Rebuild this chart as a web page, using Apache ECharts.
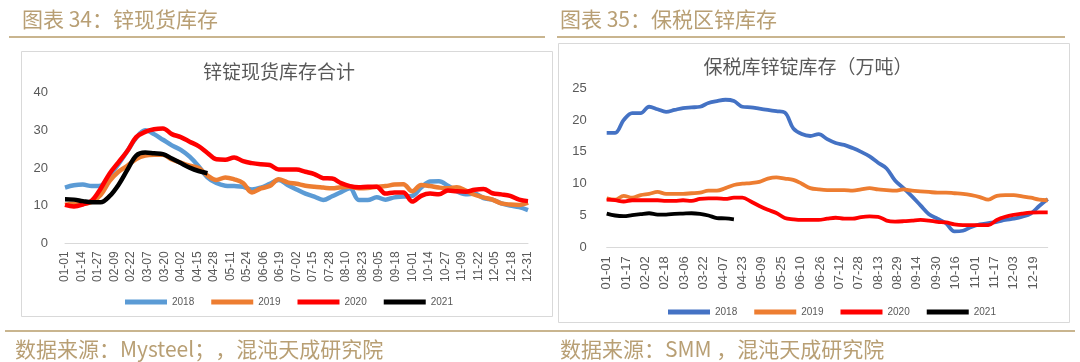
<!DOCTYPE html>
<html><head><meta charset="utf-8">
<script src="https://cdn.jsdelivr.net/npm/echarts@6/dist/echarts.min.js"></script>
<style>html,body{margin:0;padding:0;background:#fff;}#l{position:absolute;left:0;top:0;width:555px;height:362px;}#r{position:absolute;left:555px;top:0;width:525px;height:362px;}</style>
</head><body><div id="l"></div><div id="r"></div>
<script>
// x positions: day of year (01-01 = 0), sampled weekly
const weekDays = [0,7,14,21,28,35,42,49,56,63,70,77,84,91,98,105,112,119,126,133,140,147,154,161,168,175,182,189,196,203,210,217,224,231,238,245,252,259,266,273,280,287,294,301,308,315,322,329,336,343,350,357,364];
const seriesNames = ['2018','2019','2020','2021'];

// Chart 34: 锌锭现货库存合计
const spot2018 = [14.8,15.4,15.6,15.2,15.3,18.0,21.0,24.5,28.0,30.0,29.0,27.5,26.0,24.8,23.0,20.5,17.5,16.0,15.3,15.2,15.0,14.3,14.8,15.8,16.8,15.5,14.3,13.2,12.4,11.5,12.5,13.6,14.6,11.5,11.5,12.2,11.6,12.2,12.4,12.6,14.8,16.4,16.5,15.3,13.8,13.0,13.2,12.0,11.6,10.6,10.0,9.6,8.8];
const spot2019 = [10.2,10.5,10.5,11.0,12.8,16.5,19.0,20.6,22.4,23.3,23.5,23.5,22.3,21.4,20.6,20.0,18.0,16.8,17.5,17.0,16.0,13.5,14.6,15.2,17.0,16.2,15.8,15.3,15.0,14.8,14.6,14.9,15.0,14.6,14.7,15.0,15.2,15.6,15.7,13.8,15.5,15.2,14.8,14.6,14.9,14.0,12.9,12.2,11.6,10.6,10.3,10.2,10.8];
const spot2020 = [10.2,9.8,10.3,11.3,14.5,18.5,21.5,24.5,28.2,29.6,30.3,30.5,29.0,28.2,27.0,25.8,24.0,22.3,22.2,22.8,21.8,21.3,21.0,20.8,19.6,19.6,19.6,19.0,18.4,17.3,17.2,16.0,15.2,14.9,15.0,15.0,13.2,13.5,13.5,11.1,12.6,13.2,13.0,14.0,13.8,13.7,14.2,14.4,13.3,13.0,12.6,11.6,11.2];
const spot2021 = [11.7,11.6,11.2,10.9,10.9,12.5,15.5,19.5,23.3,24.1,23.9,23.7,22.5,21.3,20.1,19.2,18.6];
const spotTicks = ['01-01','01-14','01-27','02-09','02-22','03-07','03-20','04-02','04-15','04-28','05-11','05-24','06-06','06-19','07-02','07-15','07-28','08-10','08-23','09-05','09-18','10-01','10-14','10-27','11-09','11-22','12-05','12-18','12-31'];

// Chart 35: 保税库锌锭库存（万吨）
const bond2018 = [18.0,18.0,20.0,21.1,21.1,22.1,21.7,21.3,21.6,21.9,22.0,22.1,22.7,23.0,23.2,23.0,22.1,22.0,21.8,21.6,21.4,21.2,18.7,17.8,17.5,17.8,17.0,16.4,16.1,15.6,15.0,14.3,13.3,12.4,10.5,9.3,8.0,6.6,5.2,4.5,3.8,2.5,2.6,3.2,3.6,3.8,4.0,4.3,4.5,4.8,5.3,6.5,7.6];
const bond2019 = [7.7,7.5,8.1,7.8,8.2,8.4,8.7,8.4,8.4,8.4,8.5,8.6,8.9,8.9,9.3,9.8,10.0,10.1,10.3,10.8,11.0,10.8,10.6,10.0,9.3,9.1,9.0,9.0,9.0,8.9,9.1,9.3,9.1,9.0,8.9,9.1,8.9,8.8,8.7,8.6,8.6,8.5,8.4,8.2,7.9,7.5,8.1,8.2,8.2,8.0,7.8,7.5,7.4];
const bond2020 = [7.5,7.4,7.2,7.4,7.4,7.4,7.4,7.3,7.3,7.4,7.3,7.6,7.7,7.7,7.6,7.8,7.8,7.2,6.5,5.9,5.4,4.6,4.4,4.3,4.3,4.3,4.5,4.65,4.5,4.5,4.75,4.85,4.8,4.2,4.05,4.1,4.2,4.3,4.2,4.0,3.9,3.6,3.5,3.5,3.5,3.5,4.3,4.8,5.1,5.3,5.45,5.5,5.5];
const bond2021 = [5.3,5.0,4.9,5.05,5.2,5.35,5.15,5.15,5.25,5.3,5.35,5.25,5.0,4.6,4.55,4.4];
const bondTicks = ['01-01','01-17','02-02','02-18','03-06','03-22','04-07','04-23','05-09','05-25','06-10','06-26','07-12','07-28','08-13','08-29','09-14','09-30','10-16','11-01','11-17','12-03','12-19'];

const GOLD = '#b89f74', GOLDLINE = '#c9b58f', GRAY = '#595959';
const CJK = '"Noto Sans CJK SC", "Noto Sans", sans-serif';
const LAT = '"Liberation Sans", Arial, sans-serif';

function pairs(vals){ return vals.map((v,i)=>[weekDays[i], v]); }

function build(cfg){
  return {
    animation:false,
    backgroundColor:'#fff',
    textStyle:{fontFamily:LAT},
    grid:{left:cfg.gl, top:cfg.gt, width:cfg.gw, height:cfg.gh},
    legend:{left:cfg.legL, top:cfg.legT, padding:0, icon:'rect', itemWidth:42, itemHeight:5, itemGap:17,
      textStyle:{fontSize:10, color:GRAY, fontFamily:LAT}, data:seriesNames},
    xAxis:{type:'value', min:0, max:364, interval:cfg.step,
      axisLine:{show:true, lineStyle:{color:'#d9d9d9', width:1}}, axisTick:{show:false}, splitLine:{show:false},
      axisLabel:{rotate:90, margin:cfg.xm, fontSize:cfg.xfs, color:GRAY, fontFamily:LAT,
        formatter:v=> (v % cfg.step === 0 ? (cfg.ticks[v/cfg.step]||'') : '')}},
    yAxis:{type:'value', min:0, max:cfg.ymax, interval:cfg.yint,
      axisLine:{show:false}, axisTick:{show:false}, splitLine:{show:false},
      axisLabel:{margin:cfg.ym, fontSize:13, color:GRAY, fontFamily:LAT}},
    series:cfg.data.map((d,i)=>({name:seriesNames[i], type:'line', data:pairs(d), symbol:'none', smooth:0.35,
      lineStyle:{width:cfg.lw, color:cfg.colors[i]}, itemStyle:{color:cfg.colors[i]}, z:2+i})),
    graphic:cfg.graphic
  };
}

const left = echarts.init(document.getElementById('l'));
left.setOption(build({
  gl:65, gt:92.7, gw:463, gh:150.6, step:13, ticks:spotTicks, xm:8, xfs:12, ymax:40, yint:10, ym:17, lw:4.5,
  legL:125, legT:297,
  colors:['#5b9bd5','#ed7d31','#ff0000','#000000'],
  data:[spot2018, spot2019, spot2020, spot2021],
  graphic:[
    {type:'rect', shape:{x:21.5, y:51.5, width:531, height:265}, style:{fill:'none', stroke:'#d9d9d9', lineWidth:1}, silent:true},
    {type:'line', shape:{x1:9, y1:37, x2:545, y2:37}, style:{stroke:GOLDLINE, lineWidth:2}},
    {type:'line', shape:{x1:5, y1:331, x2:555, y2:331}, style:{stroke:GOLDLINE, lineWidth:2}},
    {type:'text', x:22, y:19, style:{text:'图表 34：锌现货库存', fill:GOLD, font:'21px '+CJK, textVerticalAlign:'middle'}},
    {type:'text', x:15, y:349, style:{text:'数据来源：Mysteel；，混沌天成研究院', fill:GOLD, font:'21px '+CJK, textVerticalAlign:'middle'}},
    {type:'text', x:279, y:72, style:{text:'锌锭现货库存合计', fill:GRAY, font:'19px '+CJK, textAlign:'center', textVerticalAlign:'middle'}}
  ]
}));

const right = echarts.init(document.getElementById('r'));
right.setOption(build({
  gl:51.7, gt:88.3, gw:441, gh:159, step:16, ticks:bondTicks, xm:9, xfs:13, ymax:25, yint:5, ym:20, lw:3.8,
  legL:113, legT:307,
  colors:['#4472c4','#ed7d31','#ff0000','#000000'],
  data:[bond2018, bond2019, bond2020, bond2021],
  graphic:[
    {type:'rect', shape:{x:3.5, y:43.5, width:511, height:279}, style:{fill:'none', stroke:'#d9d9d9', lineWidth:1}, silent:true},
    {type:'line', shape:{x1:2, y1:37, x2:510, y2:37}, style:{stroke:GOLDLINE, lineWidth:2}},
    {type:'line', shape:{x1:0, y1:331, x2:520, y2:331}, style:{stroke:GOLDLINE, lineWidth:2}},
    {type:'text', x:5, y:19, style:{text:'图表 35：保税区锌库存', fill:GOLD, font:'21px '+CJK, textVerticalAlign:'middle'}},
    {type:'text', x:5, y:349, style:{text:'数据来源：SMM ，混沌天成研究院', fill:GOLD, font:'21px '+CJK, textVerticalAlign:'middle'}},
    {type:'text', x:253, y:67, style:{text:'保税库锌锭库存（万吨）', fill:GRAY, font:'19px '+CJK, textAlign:'center', textVerticalAlign:'middle'}}
  ]
}));
</script></body></html>
